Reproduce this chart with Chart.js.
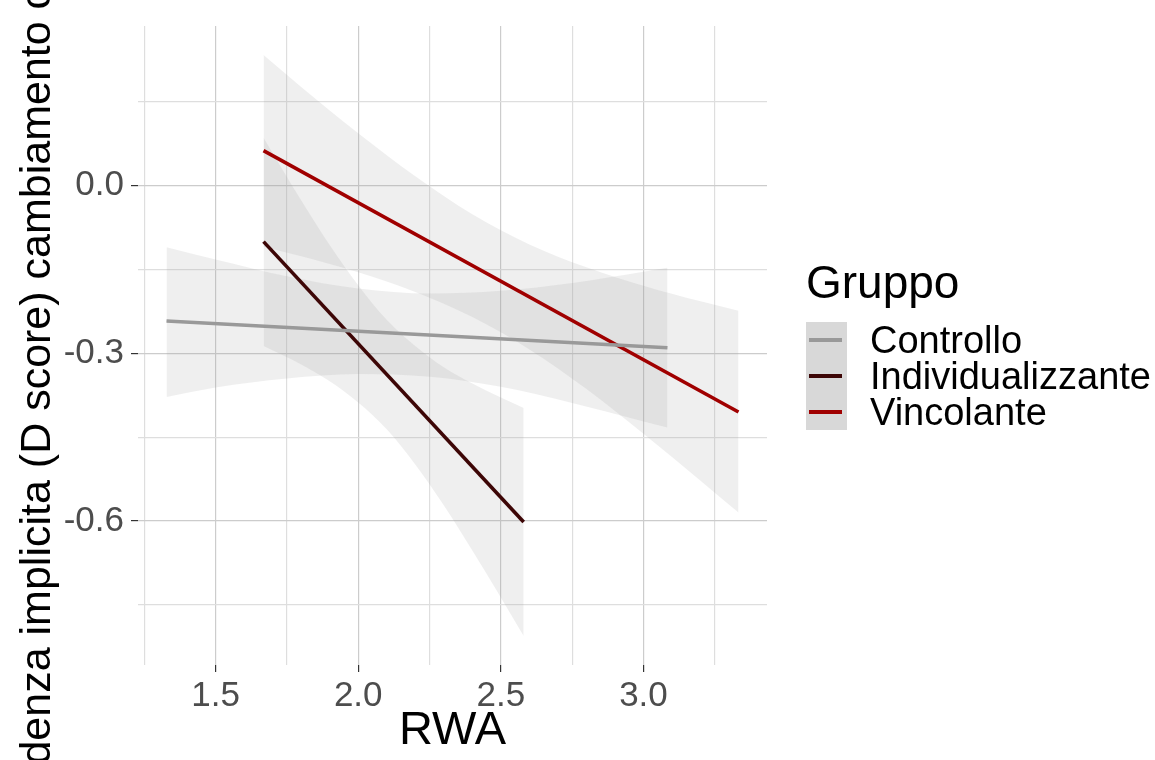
<!DOCTYPE html>
<html>
<head>
<meta charset="utf-8">
<script src="https://cdn.jsdelivr.net/npm/chart.js@4.4.1/dist/chart.umd.min.js"></script>
<style>
  html, body { margin: 0; padding: 0; background: #fff; }
  #wrap { position: relative; width: 1155px; height: 760px; overflow: hidden; font-family: "Liberation Sans", Arial, sans-serif; }
  #chart { position: absolute; left: 0; top: 0; }
  .ltitle { position: absolute; left: 806px; top: 259px; font-size: 46px; line-height: 46px; color: #000; }
  .lkeys { position: absolute; left: 806px; top: 322px; width: 41px; height: 108px; background: #d8d8d8; }
  .lrow { position: absolute; left: 0; width: 340px; height: 36px; }
  .lline { position: absolute; left: 3px; top: 16px; width: 33px; height: 4px; }
  .llabel { position: absolute; left: 64px; top: 0; font-size: 38px; line-height: 36px; color: #000; white-space: nowrap; }
</style>
</head>
<body>
<div id="wrap">
  <canvas id="chart" width="1155" height="760"></canvas>
  <div class="ltitle">Gruppo</div>
  <div class="lkeys" id="legend"></div>
</div>
<script>
// axis ticks
const xTicks = [1.25, 1.5, 1.75, 2.0, 2.25, 2.5, 2.75, 3.0, 3.25];
const xLabels = ['', '1.5', '', '2.0', '', '2.5', '', '3.0', ''];
const yTicks = [-0.75, -0.6, -0.45, -0.3, -0.15, 0.0, 0.15];
const yLabels = ['', '-0.6', '', '-0.3', '', '0.0', ''];

const groups = ['Controllo', 'Individualizzante', 'Vincolante'];
const groupColors = ['#999999', '#3d0606', '#a00000'];

// fitted lines (end points)
const controlloX = [1.328, 3.084];
const controlloY = [-0.242, -0.290];
const individX = [1.668, 2.580];
const individY = [-0.100, -0.602];
const vincolX = [1.668, 3.333];
const vincolY = [0.063, -0.405];

// confidence bands
const controlloBandX = [1.328, 1.5, 1.75, 2.0, 2.25, 2.5, 2.75, 3.0, 3.084];
const controlloUpper = [-0.110, -0.132, -0.162, -0.184, -0.193, -0.188, -0.174, -0.154, -0.147];
const controlloLower = [-0.378, -0.361, -0.345, -0.337, -0.342, -0.360, -0.389, -0.422, -0.433];
const individBandX = [1.668, 1.8, 1.9, 2.0, 2.1, 2.2, 2.3, 2.4, 2.5, 2.58];
const individUpper = [0.086, -0.026, -0.106, -0.178, -0.240, -0.287, -0.325, -0.354, -0.379, -0.398];
const individLower = [-0.287, -0.320, -0.350, -0.388, -0.436, -0.499, -0.572, -0.653, -0.737, -0.806];
const vincolBandX = [1.668, 1.8, 2.0, 2.2, 2.4, 2.6, 2.8, 3.0, 3.2, 3.333];
const vincolUpper = [0.234, 0.177, 0.094, 0.017, -0.051, -0.105, -0.146, -0.179, -0.207, -0.224];
const vincolLower = [-0.109, -0.126, -0.155, -0.190, -0.235, -0.293, -0.364, -0.444, -0.528, -0.585];

const xMin = 1.228, xMax = 3.433;
const yMin = -0.858, yMax = 0.286;
const xTitle = 'RWA';
const yTitle = 'Tendenza implicita (D score) cambiamento climatico';

const FONT = '"Liberation Sans", Arial, sans-serif';
const bandFill = 'rgba(153,153,153,0.16)';

function pts(xs, ys) {
    return xs.map((x, i) => ({ x: x, y: ys[i] }));
}

function lineSet(label, xs, ys, color) {
    return {
        label: label,
        data: pts(xs, ys),
        borderColor: color,
        borderWidth: 3.6,
        pointRadius: 0,
        fill: false,
        tension: 0
    };
}

function bandSets(xs, up, lo) {
    return [{
        data: pts(xs, up),
        borderWidth: 0,
        pointRadius: 0,
        backgroundColor: bandFill,
        fill: '+1',
        cubicInterpolationMode: 'monotone'
    }, {
        data: pts(xs, lo),
        borderWidth: 0,
        pointRadius: 0,
        fill: false,
        cubicInterpolationMode: 'monotone'
    }];
}

// legend
const legendBox = document.getElementById('legend');
groups.forEach((g, i) => {
    const row = document.createElement('div');
    row.className = 'lrow';
    row.style.top = (i * 36) + 'px';
    row.innerHTML = '<div class="lline" style="background:' + groupColors[i] + '"></div>' +
        '<div class="llabel">' + g + '</div>';
    legendBox.appendChild(row);
});

// y axis title is long and runs off the canvas, so draw it without maxWidth
const yTitlePlugin = {
    id: 'yTitle',
    afterDraw(chart) {
        const ctx = chart.ctx;
        ctx.save();
        ctx.translate(38, 338);
        ctx.rotate(-Math.PI / 2);
        ctx.font = '43px ' + FONT;
        ctx.fillStyle = '#000';
        ctx.textAlign = 'center';
        ctx.textBaseline = 'middle';
        ctx.fillText(yTitle, 0, 0);
        ctx.restore();
    }
};

function isMajor(list, labels, v) {
    const i = list.findIndex(t => Math.abs(t - v) < 1e-6);
    return i >= 0 && labels[i] !== '';
}

const ctx = document.getElementById('chart').getContext('2d');
const chart = new Chart(ctx, {
    type: 'line',
    data: {
        datasets: [
            lineSet(groups[0], controlloX, controlloY, groupColors[0]),
            lineSet(groups[1], individX, individY, groupColors[1]),
            lineSet(groups[2], vincolX, vincolY, groupColors[2]),
            ...bandSets(controlloBandX, controlloUpper, controlloLower),
            ...bandSets(individBandX, individUpper, individLower),
            ...bandSets(vincolBandX, vincolUpper, vincolLower)
        ]
    },
    options: {
        responsive: false,
        animation: false,
        layout: { padding: { left: 0, top: 26, right: 388, bottom: 0 } },
        plugins: {
            legend: { display: false },
            tooltip: { enabled: false }
        },
        scales: {
            x: {
                type: 'linear',
                min: xMin,
                max: xMax,
                afterBuildTicks: s => { s.ticks = xTicks.map(v => ({ value: v })); },
                afterFit: s => { s.height = 95; },
                border: { display: false },
                grid: {
                    color: c => isMajor(xTicks, xLabels, c.tick.value) ? '#cccccc' : '#dedede',
                    tickColor: c => isMajor(xTicks, xLabels, c.tick.value) ? '#333333' : 'rgba(0,0,0,0)',
                    tickLength: 7,
                    lineWidth: 1.2
                },
                ticks: {
                    autoSkip: false,
                    maxRotation: 0,
                    padding: 3,
                    color: '#4d4d4d',
                    font: { size: 35, family: FONT },
                    callback: (v, i) => xLabels[i]
                },
                title: {
                    display: true,
                    text: xTitle,
                    color: '#000',
                    font: { size: 47, family: FONT },
                    padding: { top: 0, bottom: 1 }
                }
            },
            y: {
                type: 'linear',
                min: yMin,
                max: yMax,
                afterBuildTicks: s => { s.ticks = yTicks.map(v => ({ value: v })); },
                afterFit: s => {
                    s.width = 138;
                    s.paddingTop = 0;
                    s.paddingBottom = 0;
                },
                border: { display: false },
                grid: {
                    color: c => isMajor(yTicks, yLabels, c.tick.value) ? '#cccccc' : '#dedede',
                    tickColor: c => isMajor(yTicks, yLabels, c.tick.value) ? '#333333' : 'rgba(0,0,0,0)',
                    tickLength: 7,
                    lineWidth: 1.2
                },
                ticks: {
                    autoSkip: false,
                    padding: 7,
                    color: '#4d4d4d',
                    font: { size: 35, family: FONT },
                    callback: (v, i) => yLabels[i]
                }
            }
        }
    },
    plugins: [yTitlePlugin]
});
</script>
</body>
</html>
